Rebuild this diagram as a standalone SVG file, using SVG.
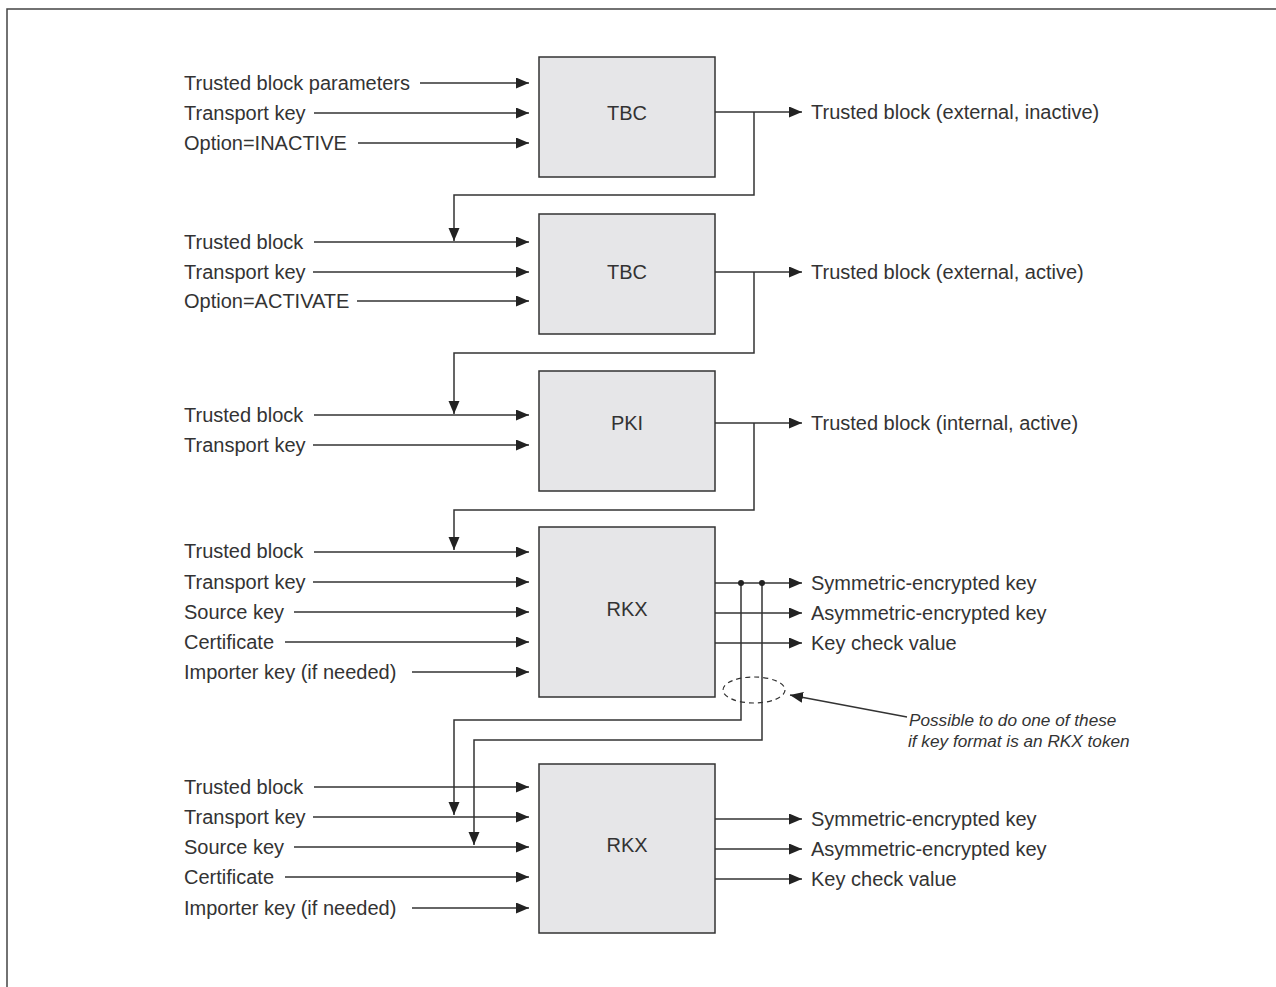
<svg xmlns="http://www.w3.org/2000/svg" width="1276" height="987" viewBox="0 0 1276 987">
<defs>
<marker id="ah" markerUnits="userSpaceOnUse" markerWidth="14" markerHeight="12" refX="13" refY="5.5" orient="auto">
<path d="M0,0 L13,5.5 L0,11 z" fill="#222"/>
</marker>
<style>
.t{font-family:"Liberation Sans",Arial,sans-serif;font-size:20px;fill:#333;}
.c{text-anchor:middle;}
.i{font-style:italic;font-size:17.2px;}
.box{fill:#e6e6e8;stroke:#333;stroke-width:1.5;}
.ln{fill:none;stroke:#333;stroke-width:1.5;}
.ar{fill:none;stroke:#333;stroke-width:1.5;marker-end:url(#ah);}
</style>
</defs>
<rect width="1276" height="987" fill="#fff"/>
<path d="M7,987 V9 H1276" fill="none" stroke="#444" stroke-width="1.5"/>

<g id="n1">
<rect class="box" x="539" y="57" width="176" height="120"/>
<text class="t c" x="627" y="120">TBC</text>
</g>
<g id="n2">
<rect class="box" x="539" y="214" width="176" height="120"/>
<text class="t c" x="627" y="279">TBC</text>
</g>
<g id="n3">
<rect class="box" x="539" y="371" width="176" height="120"/>
<text class="t c" x="627" y="430">PKI</text>
</g>
<g id="n4">
<rect class="box" x="539" y="527" width="176" height="170"/>
<text class="t c" x="627" y="616">RKX</text>
</g>
<g id="n5">
<rect class="box" x="539" y="764" width="176" height="169"/>
<text class="t c" x="627" y="852">RKX</text>
</g>

<g id="labels">
<text class="t" x="184" y="90">Trusted block parameters</text>
<text class="t" x="184" y="120">Transport key</text>
<text class="t" x="184" y="150">Option=INACTIVE</text>
<text class="t" x="811" y="119">Trusted block (external, inactive)</text>

<text class="t" x="184" y="249">Trusted block</text>
<text class="t" x="184" y="279">Transport key</text>
<text class="t" x="184" y="308">Option=ACTIVATE</text>
<text class="t" x="811" y="279">Trusted block (external, active)</text>

<text class="t" x="184" y="422">Trusted block</text>
<text class="t" x="184" y="452">Transport key</text>
<text class="t" x="811" y="430">Trusted block (internal, active)</text>

<text class="t" x="184" y="558">Trusted block</text>
<text class="t" x="184" y="589">Transport key</text>
<text class="t" x="184" y="619">Source key</text>
<text class="t" x="184" y="649">Certificate</text>
<text class="t" x="184" y="679">Importer key (if needed)</text>
<text class="t" x="811" y="590">Symmetric-encrypted key</text>
<text class="t" x="811" y="620">Asymmetric-encrypted key</text>
<text class="t" x="811" y="650">Key check value</text>

<text class="t" x="184" y="794">Trusted block</text>
<text class="t" x="184" y="824">Transport key</text>
<text class="t" x="184" y="854">Source key</text>
<text class="t" x="184" y="884">Certificate</text>
<text class="t" x="184" y="915">Importer key (if needed)</text>
<text class="t" x="811" y="826">Symmetric-encrypted key</text>
<text class="t" x="811" y="856">Asymmetric-encrypted key</text>
<text class="t" x="811" y="886">Key check value</text>

<text class="t i" x="909" y="726">Possible to do one of these</text>
<text class="t i" x="908" y="747">if key format is an RKX token</text>
</g>

<g id="connectors">
<line class="ar" x1="420" y1="83" x2="529" y2="83"/>
<line class="ar" x1="314" y1="113" x2="529" y2="113"/>
<line class="ar" x1="358" y1="143" x2="529" y2="143"/>
<line class="ar" x1="715" y1="112" x2="802" y2="112"/>
<path class="ar" d="M754,112 V195 H454 V241"/>

<line class="ar" x1="314" y1="242" x2="529" y2="242"/>
<line class="ar" x1="313" y1="272" x2="529" y2="272"/>
<line class="ar" x1="357" y1="301" x2="529" y2="301"/>
<line class="ar" x1="715" y1="272" x2="802" y2="272"/>
<path class="ar" d="M754,272 V353 H454 V414"/>

<line class="ar" x1="314" y1="415" x2="529" y2="415"/>
<line class="ar" x1="313" y1="445" x2="529" y2="445"/>
<line class="ar" x1="715" y1="423" x2="802" y2="423"/>
<path class="ar" d="M754,423 V510 H454 V550"/>

<line class="ar" x1="314" y1="552" x2="529" y2="552"/>
<line class="ar" x1="313" y1="582" x2="529" y2="582"/>
<line class="ar" x1="294" y1="612" x2="529" y2="612"/>
<line class="ar" x1="285" y1="642" x2="529" y2="642"/>
<line class="ar" x1="412" y1="672" x2="529" y2="672"/>
<line class="ar" x1="715" y1="583" x2="802" y2="583"/>
<line class="ar" x1="715" y1="613" x2="802" y2="613"/>
<line class="ar" x1="715" y1="643" x2="802" y2="643"/>
<path class="ar" d="M741,583 V720 H454 V815"/>
<path class="ar" d="M762,583 V740 H474 V845"/>
<circle cx="741" cy="583" r="3" fill="#222"/>
<circle cx="762" cy="583" r="3" fill="#222"/>

<line class="ar" x1="314" y1="787" x2="529" y2="787"/>
<line class="ar" x1="313" y1="817" x2="529" y2="817"/>
<line class="ar" x1="294" y1="847" x2="529" y2="847"/>
<line class="ar" x1="285" y1="877" x2="529" y2="877"/>
<line class="ar" x1="412" y1="908" x2="529" y2="908"/>
<line class="ar" x1="715" y1="819" x2="802" y2="819"/>
<line class="ar" x1="715" y1="849" x2="802" y2="849"/>
<line class="ar" x1="715" y1="879" x2="802" y2="879"/>

<ellipse cx="754" cy="690" rx="31" ry="13" fill="none" stroke="#333" stroke-width="1.2" stroke-dasharray="5,4"/>
<line class="ar" x1="907" y1="717" x2="790" y2="695"/>
</g>
</svg>
